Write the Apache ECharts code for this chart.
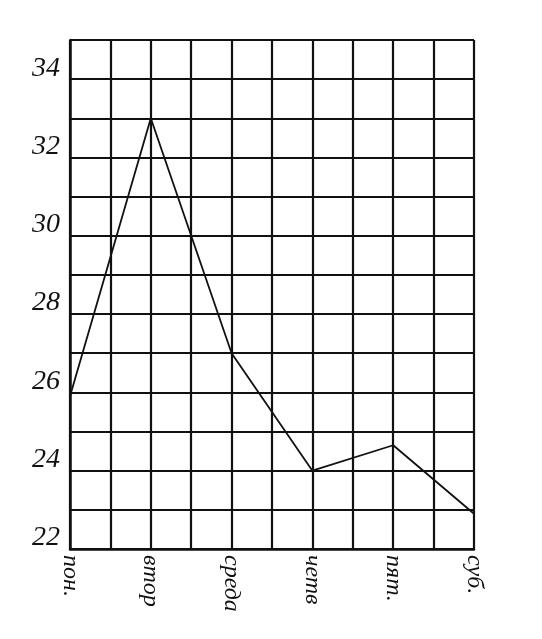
<!DOCTYPE html>
<html><head><meta charset="utf-8">
<script src="https://cdn.jsdelivr.net/npm/echarts@6/dist/echarts.min.js"></script>
<style>html,body{margin:0;padding:0;background:#fff}#c{width:542px;height:639px}</style>
</head><body><div id="c"></div>
<script>
const days = ['пон.', 'втор', 'среда', 'четв', 'пят.', 'суб.'];
const values = [25.9, 33, 27, 24, 24.65, 22.9];
const yTicks = [22, 24, 26, 28, 30, 32, 34];
const dayStep = 2;

const chart = echarts.init(document.getElementById('c'));
chart.setOption({
  backgroundColor: '#fff',
  animation: false,
  grid: {left: 70, right: 68, top: 40, bottom: 90, containLabel: false},
  xAxis: {
    type: 'value', min: 0, max: (days.length - 1) * dayStep, interval: 1,
    axisLine: {show: true, lineStyle: {color: '#111', width: 2.5}},
    axisTick: {show: false},
    splitLine: {show: true, lineStyle: {color: '#111', width: 2.2}},
    axisLabel: {
      rotate: -90, margin: 6, fontSize: 24, fontStyle: 'italic',
      fontFamily: 'Liberation Serif', color: '#111',
      formatter: v => (v % dayStep === 0 ? days[v / dayStep] : '')
    }
  },
  yAxis: {
    type: 'value', min: 22, max: 35, interval: 1,
    axisLine: {show: true, lineStyle: {color: '#111', width: 2.5}},
    axisTick: {show: false},
    splitLine: {show: true, lineStyle: {color: '#111', width: 2.2}},
    axisLabel: {
      margin: 10, fontSize: 28, fontStyle: 'italic', fontFamily: 'Liberation Serif',
      color: '#111', verticalAlign: 'bottom', lineHeight: 22,
      formatter: v => (yTicks.includes(v) ? String(v) : '')
    }
  },
  series: [{
    type: 'line',
    data: values.map((v, i) => [i * dayStep, v]),
    symbol: 'none',
    lineStyle: {color: '#111', width: 1.8}
  }]
});
</script></body></html>
